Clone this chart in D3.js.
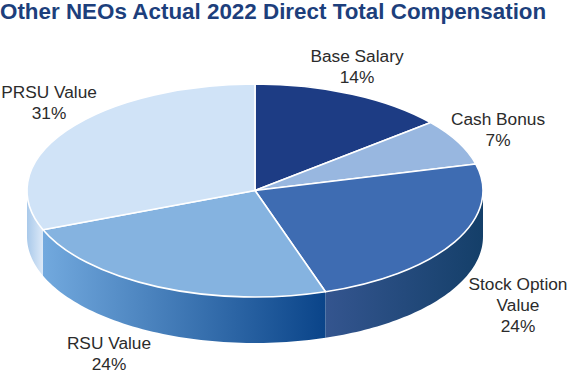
<!DOCTYPE html>
<html><head><meta charset="utf-8">
<script src="https://cdn.jsdelivr.net/npm/d3@7"></script>
<style>html,body{margin:0;padding:0;background:#fff}svg{display:block}text{font-family:"Liberation Sans",Arial,sans-serif}</style>
</head><body><div id="c"></div>
<script>
const categories=["Base Salary","Cash Bonus","Stock Option Value","RSU Value","PRSU Value"];
const values=[14,7,24,24,31];
const topColors=["#1d3c84","#98b7e0","#3e6cb2","#85b3e0","#d0e3f7"];
const wallStops={2:["#34558f","#143f69"],3:["#72a9de","#0a4489"],4:["#a9c9ea","#dce9f8"]};
const labelLines=[["Base Salary","14%"],["Cash Bonus","7%"],["Stock Option","Value","24%"],["RSU Value","24%"],["PRSU Value","31%"]];
const labelPos=[[357,62],[498,124.5],[518,290],[109,349],[49,98]];
const W=574,H=378,cx=255,cy=190.5,rx=228,ry=106.5,depth=46;

const svg=d3.select("#c").append("svg").attr("width",W).attr("height",H);
svg.append("text").attr("x",0).attr("y",19).attr("font-size",22.4).attr("font-weight","bold").attr("fill","#1d3f7c").text("Other NEOs Actual 2022 Direct Total Compensation");

const pieData=d3.pie().sort(null).value(d=>d)(values);
const px=a=>cx+rx*Math.sin(a), py=a=>cy-ry*Math.cos(a);
const defs=svg.append("defs");

pieData.forEach((s,i)=>{
  const a0=Math.max(s.startAngle,Math.PI/2),a1=Math.min(s.endAngle,3*Math.PI/2);
  if(a1<=a0||!wallStops[i])return;
  const x0=Math.min(px(a0),px(a1)),x1=Math.max(px(a0),px(a1));
  const g=defs.append("linearGradient").attr("id","w"+i).attr("gradientUnits","userSpaceOnUse")
    .attr("x1",x0).attr("x2",x1).attr("y1",0).attr("y2",0);
  wallStops[i].forEach((c,k)=>g.append("stop").attr("offset",k).attr("stop-color",c));
  const ang=d3.range(0,61).map(k=>a0+(a1-a0)*k/60);
  const line=d3.line();
  const pts=ang.map(a=>[px(a),py(a)]).concat(ang.slice().reverse().map(a=>[px(a),py(a)+depth]));
  svg.append("path").attr("d",line(pts)+"Z").attr("fill",`url(#w${i})`);
});

const arc=d3.arc().innerRadius(0).outerRadius(rx);
const face=svg.append("g").attr("transform",`translate(${cx},${cy}) scale(1,${ry/rx})`);
face.selectAll("path").data(pieData).join("path").attr("d",arc)
  .attr("fill",(d,i)=>topColors[i]).attr("stroke","#fff").attr("stroke-width",1.6)
  .attr("vector-effect","non-scaling-stroke").attr("stroke-linejoin","round");

const lab=svg.selectAll("text.l").data(labelLines).join("text").attr("class","l")
  .attr("text-anchor","middle").attr("font-size",17.3).attr("fill","#2b2b2b")
  .attr("transform",(d,i)=>`translate(${labelPos[i][0]},${labelPos[i][1]})`);
lab.selectAll("tspan").data(d=>d).join("tspan").attr("x",0).attr("dy",(d,i)=>i?21:0).text(d=>d);
</script></body></html>
